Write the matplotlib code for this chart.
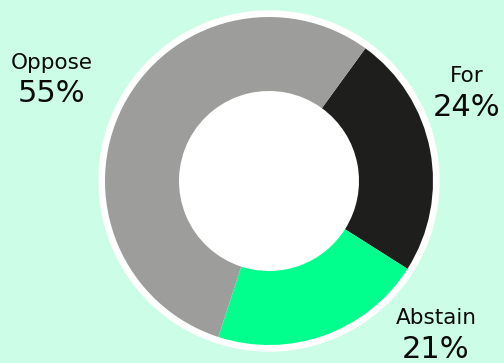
import matplotlib
matplotlib.use("Agg")
import matplotlib.pyplot as plt
from matplotlib.patches import Circle

labels = ["For", "Abstain", "Oppose"]
shares = [24, 21, 55]
colors = ["#1e1e1c", "#00ff8c", "#9d9d9b"]

# label positions (pixel coords, origin bottom-left)
label_pos = {"For": (467, 287), "Abstain": (436, 45), "Oppose": (52, 300)}

bg = "#ccfde6"
fig = plt.figure(figsize=(5.04, 3.63), dpi=100, facecolor=bg)
ax = fig.add_axes([0, 0, 1, 1])
ax.set_facecolor(bg)

cx, cy = 269, 182
ax.add_patch(Circle((cx, cy), 170, color="white", zorder=0))
ax.pie(shares, colors=colors, startangle=54, counterclock=False,
       center=(cx, cy), radius=164, frame=True,
       wedgeprops=dict(width=74, linewidth=0))
ax.set_xlim(0, 504)
ax.set_ylim(0, 363)
ax.set_aspect("equal")
ax.axis("off")

for lab, val in zip(labels, shares):
    x, y = label_pos[lab]
    ax.text(x, y, lab, ha="center", va="center", fontsize=15.5, color="#0a0a0a")
    ax.text(x, y - 31, f"{val}%", ha="center", va="center", fontsize=22, color="#0a0a0a")

fig.savefig("out.png", dpi=100, facecolor=bg)
